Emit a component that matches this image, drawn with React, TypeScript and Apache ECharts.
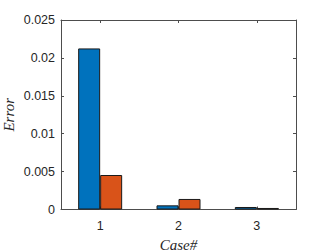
import React, { useEffect, useRef } from "react";
import * as echarts from "echarts";

const categories = ["1", "2", "3"];
const seriesA = [0.02125, 0.00055, 0.00033];
const seriesB = [0.00455, 0.00139, 0.0002];
const yTicks = [0, 0.005, 0.01, 0.015, 0.02, 0.025];

export default function App() {
  const ref = useRef<HTMLDivElement>(null);
  useEffect(() => {
    if (!ref.current) return;
    const chart = echarts.init(ref.current, null, { renderer: "svg" });
    const axisColor = "#4d4d4d";
    const labelStyle = { color: "#262626", fontSize: 12.5, fontFamily: "Liberation Sans, Arial, sans-serif" };
    const nameStyle = { fontFamily: "Liberation Serif, DejaVu Serif, serif", fontStyle: "italic", fontSize: 15, color: "#262626" };
    chart.setOption({
      animation: false,
      backgroundColor: "#ffffff",
      grid: { left: 61, top: 20, right: 31, bottom: 42.5, containLabel: false, outerBoundsMode: "none" },
      xAxis: [
        {
          type: "category",
          data: categories,
          boundaryGap: true,
          name: "Case#",
          nameLocation: "middle",
          nameGap: 23,
          nameTextStyle: nameStyle,
          axisLine: { show: true, lineStyle: { color: axisColor, width: 1 } },
          axisTick: { show: true, inside: true, alignWithLabel: true, length: 3, lineStyle: { color: axisColor } },
          axisLabel: { ...labelStyle, margin: 10 },
          splitLine: { show: false },
        },
        {
          type: "category",
          data: categories,
          position: "top",
          boundaryGap: true,
          axisLine: { show: true, onZero: false, lineStyle: { color: axisColor, width: 1 } },
          axisTick: { show: true, inside: true, alignWithLabel: true, length: 3, lineStyle: { color: axisColor } },
          axisLabel: { show: false },
          splitLine: { show: false },
        },
      ],
      yAxis: [
        {
          type: "value",
          min: 0,
          max: yTicks[yTicks.length - 1],
          interval: 0.005,
          name: "Error",
          nameLocation: "middle",
          nameGap: 45,
          nameMoveOverlap: false,
          nameTextStyle: nameStyle,
          axisLine: { show: true, lineStyle: { color: axisColor, width: 1 } },
          axisTick: { show: true, inside: true, length: 3, lineStyle: { color: axisColor } },
          axisLabel: { ...labelStyle, margin: 6, formatter: (v: number) => String(+v.toFixed(3)) },
          splitLine: { show: false },
        },
        {
          type: "value",
          min: 0,
          max: yTicks[yTicks.length - 1],
          interval: 0.005,
          position: "right",
          axisLine: { show: true, onZero: false, lineStyle: { color: axisColor, width: 1 } },
          axisTick: { show: true, inside: true, length: 3, lineStyle: { color: axisColor } },
          axisLabel: { show: false },
          splitLine: { show: false },
        },
      ],
      series: [
        {
          type: "bar",
          data: seriesA,
          barWidth: 22,
          barGap: "0%",
          itemStyle: { color: "#0072BD", borderColor: "#1a1a1a", borderWidth: 1 },
        },
        {
          type: "bar",
          data: seriesB,
          barWidth: 22,
          barGap: "0%",
          itemStyle: { color: "#D95319", borderColor: "#1a1a1a", borderWidth: 1 },
        },
      ],
    });
    return () => chart.dispose();
  }, []);
  return <div ref={ref} style={{ width: 327, height: 252, position: "absolute", left: 0, top: 0 }} />;
}
